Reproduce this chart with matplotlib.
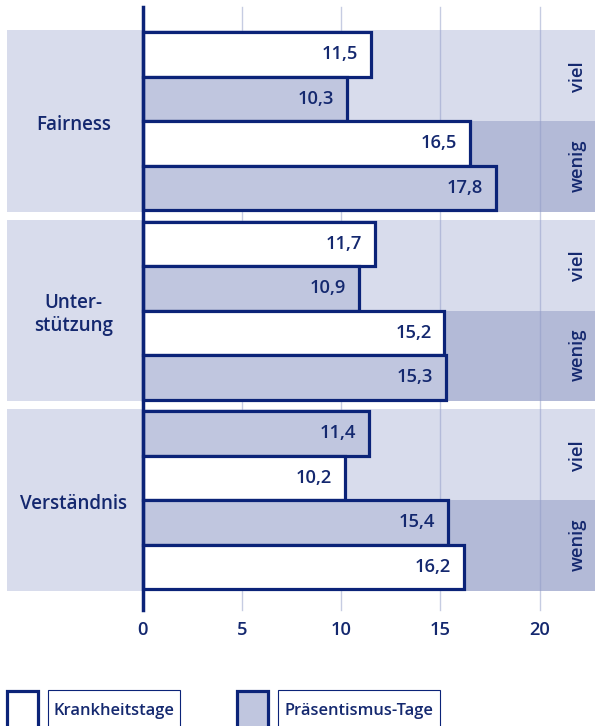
import matplotlib.pyplot as plt
from matplotlib.patches import Rectangle

# data, top to bottom inside each group
groups = ["Fairness", "Unter-\nstützung", "Verständnis"]
levels = ["viel", "viel", "wenig", "wenig"]
fairness = [11.5, 10.3, 16.5, 17.8]
unterstuetzung = [11.7, 10.9, 15.2, 15.3]
verstaendnis = [11.4, 10.2, 15.4, 16.2]
# 'k' = Krankheitstage, 'p' = Präsentismus-Tage
series_fairness = ["k", "p", "k", "p"]
series_unterstuetzung = ["k", "p", "k", "p"]
series_verstaendnis = ["p", "k", "p", "k"]
ticks = [0, 5, 10, 15, 20]
legend_labels = ["Krankheitstage", "Präsentismus-Tage"]

values = [fairness, unterstuetzung, verstaendnis]
series = [series_fairness, series_unterstuetzung, series_verstaendnis]

navy = "#0B2378"
text_c = "#14286F"
light = "#D8DCEC"
dark = "#B3BAD7"
fills = {"k": "white", "p": "#C0C6DF"}

plt.rcParams['font.family'] = ['Open Sans', 'DejaVu Sans']
plt.rcParams['font.weight'] = 'semibold'
fs = 13.2

W, H = 595, 726
fig = plt.figure(figsize=(W / 100, H / 100), dpi=100)
ax = fig.add_axes([0, 0, 1, 1])

px = 19.83          # pixels per unit on x
x0 = 143            # pixel of x = 0
bar_px = 44.5       # bar height in pixels (=1 y unit)
top_px = 32
pitch = 4.26        # group pitch in bar units

xmin = -x0 / px
xmax = (W - x0) / px
ax.set_xlim(xmin, xmax)
ax.set_ylim((H - top_px) / bar_px, -top_px / bar_px)
ax.axis('off')

y_top = -25 / bar_px
y_bot = (610 - top_px) / bar_px
band_left = (7 - x0) / px

for g, (vals, ser) in enumerate(zip(values, series)):
    gy = g * pitch
    ax.add_patch(Rectangle((band_left, gy - 0.04), xmax - band_left, 4.08,
                           facecolor=light, edgecolor='none', zorder=0))
    ax.add_patch(Rectangle((0, gy + 2), xmax, 2.04,
                           facecolor=dark, edgecolor='none', zorder=0))
    ax.text(-3.5, gy + 2.08, groups[g], ha='center', va='center',
            fontsize=fs + 0.3, color=text_c, linespacing=1.2, zorder=3)
    for i, (v, s) in enumerate(zip(vals, ser)):
        ax.barh(gy + i + 0.5, v, height=1.0, left=0, color=fills[s],
                edgecolor=navy, linewidth=2.3, zorder=2)
        ax.text(v - 0.65, gy + i + 0.5, f"{v:.1f}".replace('.', ','),
                ha='right', va='center', fontsize=fs, color=text_c, zorder=3)
    ax.text(21.95, gy + 1, levels[0], rotation=90, ha='center', va='center',
            fontsize=fs, color=text_c, zorder=3)
    ax.text(21.95, gy + 3, levels[2], rotation=90, ha='center', va='center',
            fontsize=fs, color=text_c, zorder=3)

for t in ticks[1:]:
    ax.plot([t, t], [y_top, y_bot], color='#8F9AC7', alpha=0.5,
            linewidth=1.0, zorder=1)
ax.plot([0, 0], [y_top, y_bot], color=navy, linewidth=2.5, zorder=4)

for t in ticks:
    ax.text(t, (630 - top_px) / bar_px, str(t), ha='center', va='center',
            fontsize=fs, color=text_c)

# legend drawn in figure pixels
def fx(p):
    return p / W

def fy(p):
    return 1 - p / H

items = [(7, 48, 180), (237, 278, 440)]
for (sq, bx0, bx1), lab, key in zip(items, legend_labels, ["k", "p"]):
    fig.patches.append(Rectangle((fx(sq), fy(735)), fx(31), 44 / H,
                                 transform=fig.transFigure, facecolor=fills[key],
                                 edgecolor=navy, linewidth=2.3))
    fig.patches.append(Rectangle((fx(bx0), fy(735)), fx(bx1 - bx0), 45 / H,
                                 transform=fig.transFigure, facecolor='white',
                                 edgecolor=navy, linewidth=0.8))
    fig.text(fx((bx0 + bx1) / 2), fy(711), lab, ha='center', va='center',
             fontsize=11.9, color=text_c)

fig.savefig("out.png", dpi=100)
